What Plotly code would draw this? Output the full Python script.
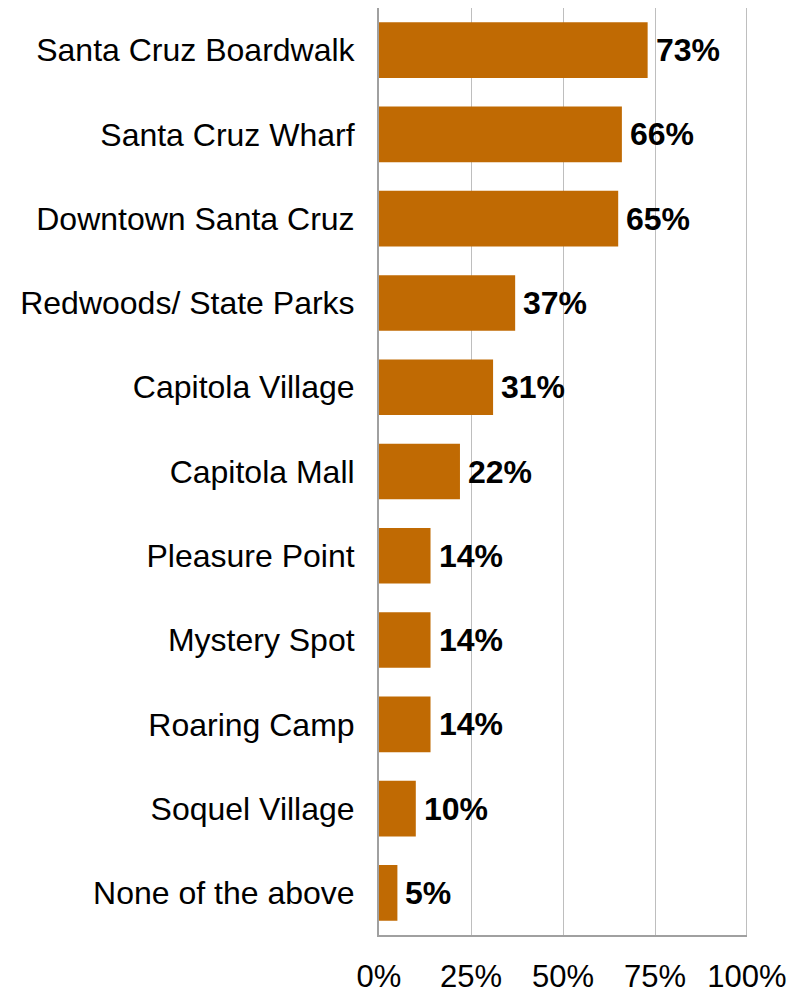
import plotly.graph_objects as go

categories = ["Santa Cruz Boardwalk", "Santa Cruz Wharf", "Downtown Santa Cruz",
              "Redwoods/ State Parks", "Capitola Village", "Capitola Mall",
              "Pleasure Point", "Mystery Spot", "Roaring Camp", "Soquel Village",
              "None of the above"]
values = [73, 66, 65, 37, 31, 22, 14, 14, 14, 10, 5]
tick_vals = [0, 25, 50, 75, 100]
tick_text = ["0%", "25%", "50%", "75%", "100%"]

FONT = "Liberation Sans, Arial"

fig = go.Figure(go.Bar(
    x=values, y=categories, orientation="h",
    marker=dict(color="#C06A03", line=dict(width=0)),
    cliponaxis=False,
))

for v, c in zip(values, categories):
    fig.add_annotation(x=v, y=c, xref="x", yref="y", text=f"<b>{v}%</b>",
                       showarrow=False, xanchor="left", yanchor="middle", xshift=6,
                       font=dict(family=FONT, size=32, color="black"))

# page has an 8px body margin, so the figure is sized/offset to compensate
fig.update_layout(
    width=791, height=987,
    margin=dict(l=371, r=52, t=0, b=60, autoexpand=False),
    paper_bgcolor="white", plot_bgcolor="white",
    bargap=0.34,
    showlegend=False,
    font=dict(family=FONT, size=32, color="black"),
)
fig.update_xaxes(
    range=[0, 100], tickvals=tick_vals, ticktext=tick_text,
    showgrid=True, gridcolor="#BEBEBE", gridwidth=1,
    showline=True, linecolor="#A0A0A0", linewidth=2, mirror=False,
    ticks="", ticklabelstandoff=13, zeroline=False, automargin=False,
    tickfont=dict(size=31),
)
fig.update_yaxes(
    autorange="reversed", showline=True, linecolor="#A0A0A0", linewidth=2,
    ticks="", ticklabelstandoff=16, tickfont=dict(size=32), automargin=False,
)
fig.add_shape(type="line", xref="x", yref="paper", x0=100, x1=100, y0=0, y1=1,
              line=dict(color="#BEBEBE", width=2))

fig.write_html("out.html")
